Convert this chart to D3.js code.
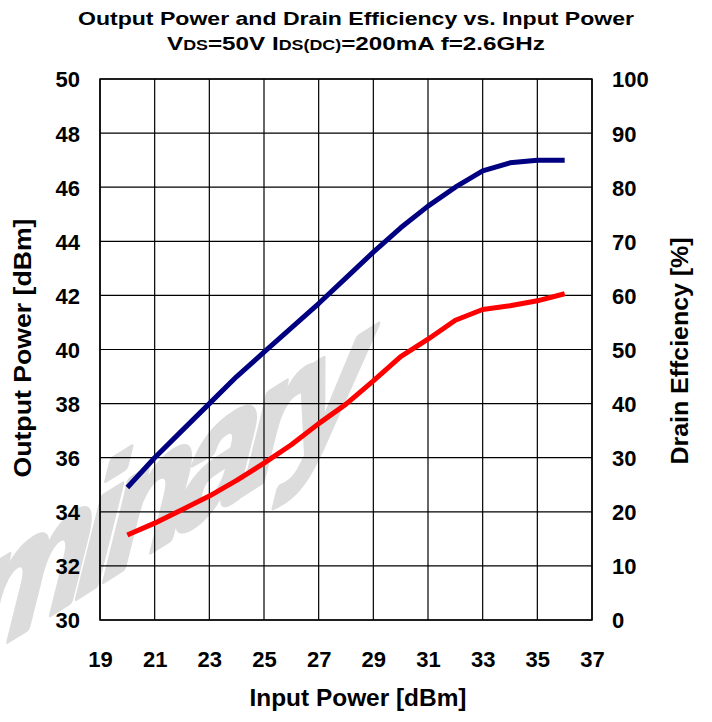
<!DOCTYPE html>
<html>
<head>
<meta charset="utf-8">
<script src="https://cdn.jsdelivr.net/npm/d3@7/dist/d3.min.js"></script>
<style>
  html, body { margin: 0; padding: 0; background: #fff; }
  svg { display: block; }
  text { font-family: "Liberation Sans", Arial, sans-serif; font-weight: bold; fill: #000; }
</style>
</head>
<body>
<script>
// ---- data ----
const inputPower = [20, 21, 22, 23, 24, 25, 26, 27, 28, 29, 30, 31, 32, 33, 34, 35, 36];
const outputPower = [34.9, 36.0, 37.0, 38.0, 39.0, 39.9, 40.8, 41.7, 42.65, 43.6, 44.5, 45.3, 46.0, 46.6, 46.9, 47.0, 47.0];
const drainEfficiency = [15.7, 17.9, 20.4, 22.9, 25.8, 29.0, 32.4, 36.3, 39.9, 44.2, 48.7, 51.9, 55.4, 57.4, 58.1, 59.0, 60.3];
const xTicks = [19, 21, 23, 25, 27, 29, 31, 33, 35, 37];
const yLeftTicks = [30, 32, 34, 36, 38, 40, 42, 44, 46, 48, 50];
const yRightTicks = [0, 10, 20, 30, 40, 50, 60, 70, 80, 90, 100];

const W = 712, H = 722;
const pLeft = 100, pRight = 592, pTop = 79, pBottom = 620;

const svg = d3.select("body").append("svg").attr("width", W).attr("height", H);

const x = d3.scaleLinear().domain([19, 37]).range([pLeft, pRight]);
const yL = d3.scaleLinear().domain([30, 50]).range([pBottom, pTop]);
const yR = d3.scaleLinear().domain([0, 100]).range([pBottom, pTop]);

// watermark
svg.append("text")
  .attr("transform", "matrix(1.06,-0.6625,-0.363,1.455,-287,825)")
  .attr("x", 0).attr("y", 0)
  .style("font-size", "130px")
  .style("letter-spacing", "-10.4px")
  .style("fill", "#dcdcdc")
  .style("stroke", "#dcdcdc").style("stroke-width", 5).style("stroke-linejoin", "round")
  .text("Preliminary");

// gridlines
const grid = svg.append("g");
grid.selectAll("line.v").data(xTicks).join("line").attr("class", "v")
  .attr("x1", d => x(d)).attr("x2", d => x(d))
  .attr("y1", pTop).attr("y2", pBottom)
  .attr("stroke", "#000").attr("stroke-width", 1.2);
grid.selectAll("line.h").data(yLeftTicks).join("line").attr("class", "h")
  .attr("x1", pLeft).attr("x2", pRight)
  .attr("y1", d => yL(d)).attr("y2", d => yL(d))
  .attr("stroke", "#000").attr("stroke-width", 1.2);
svg.append("rect").attr("x", pLeft).attr("y", pTop)
  .attr("width", pRight - pLeft).attr("height", pBottom - pTop)
  .attr("fill", "none").attr("stroke", "#000").attr("stroke-width", 1.5);

// axes (labels only, via d3 axes)
const axX = svg.append("g").attr("transform", `translate(0,${pBottom})`)
  .call(d3.axisBottom(x).tickValues(xTicks).tickSize(0).tickPadding(0));
axX.select(".domain").remove();
axX.selectAll("text").attr("y", 47).attr("dy", null).style("font-size", "22px");

const axL = svg.append("g").attr("transform", `translate(${pLeft},0)`)
  .call(d3.axisLeft(yL).tickValues(yLeftTicks).tickSize(0).tickPadding(20));
axL.select(".domain").remove();
axL.selectAll("text").attr("dy", "0.36em").style("font-size", "22px");

const axR = svg.append("g").attr("transform", `translate(${pRight},0)`)
  .call(d3.axisRight(yR).tickValues(yRightTicks).tickSize(0).tickPadding(20));
axR.select(".domain").remove();
axR.selectAll("text").attr("dy", "0.36em").style("font-size", "22px");

// lines
const linePout = d3.line().x((d, i) => x(inputPower[i])).y(d => yL(d));
const lineEff = d3.line().x((d, i) => x(inputPower[i])).y(d => yR(d));
svg.append("path").datum(drainEfficiency).attr("d", lineEff)
  .attr("fill", "none").attr("stroke", "#ff0000").attr("stroke-width", 5).attr("stroke-linejoin", "round");
svg.append("path").datum(outputPower).attr("d", linePout)
  .attr("fill", "none").attr("stroke", "#000080").attr("stroke-width", 5).attr("stroke-linejoin", "round");

// titles
svg.append("text").attr("x", 356).attr("y", 25).attr("text-anchor", "middle")
  .style("font-size", "19px").attr("textLength", 556).attr("lengthAdjust", "spacingAndGlyphs")
  .text("Output Power and Drain Efficiency vs. Input Power");

const t2 = svg.append("text").attr("x", 356).attr("y", 50).attr("text-anchor", "middle")
  .style("font-size", "19px").attr("textLength", 378).attr("lengthAdjust", "spacingAndGlyphs");
t2.append("tspan").text("V");
t2.append("tspan").style("font-size", "14px").text("DS");
t2.append("tspan").text("=50V I");
t2.append("tspan").style("font-size", "14px").text("DS(DC)");
t2.append("tspan").text("=200mA f=2.6GHz");

svg.append("text").attr("x", 358).attr("y", 706).attr("text-anchor", "middle")
  .style("font-size", "24px").attr("textLength", 217).attr("lengthAdjust", "spacingAndGlyphs")
  .text("Input Power [dBm]");

svg.append("text").attr("transform", "translate(31,348) rotate(-90)").attr("text-anchor", "middle")
  .style("font-size", "24px").attr("textLength", 259).attr("lengthAdjust", "spacingAndGlyphs")
  .text("Output Power [dBm]");

svg.append("text").attr("transform", "translate(688,351) rotate(-90)").attr("text-anchor", "middle")
  .style("font-size", "24px").attr("textLength", 227).attr("lengthAdjust", "spacingAndGlyphs")
  .text("Drain Effciency [%]");
</script>
</body>
</html>
